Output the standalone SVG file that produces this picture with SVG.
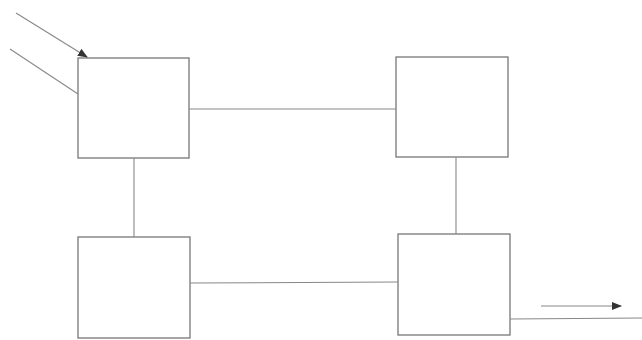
<svg xmlns="http://www.w3.org/2000/svg" width="642" height="340" viewBox="0 0 642 340">
<style>
.box{fill:none;stroke:#777;stroke-width:1.3}
.ln{fill:none;stroke:#888;stroke-width:1.1}
</style>
<defs>
<marker id="ah" markerWidth="10" markerHeight="8" refX="9" refY="4" orient="auto" markerUnits="userSpaceOnUse">
<path d="M0,0 L10,4 L0,8 Z" fill="#333"/>
</marker>
</defs>
<rect width="642" height="340" fill="#fff"/>
<g id="n1"><rect class="box" x="78" y="58" width="111" height="100"/></g>
<g id="n2"><rect class="box" x="396" y="57" width="112" height="100"/></g>
<g id="n3"><rect class="box" x="78" y="237" width="112" height="101"/></g>
<g id="n4"><rect class="box" x="398" y="234" width="112" height="101"/></g>
<g id="connectors">
<line class="ln" x1="16" y1="13" x2="87" y2="57" marker-end="url(#ah)"/>
<line class="ln" x1="10" y1="49" x2="78" y2="94"/>
<line class="ln" x1="189" y1="109" x2="396" y2="109"/>
<line class="ln" x1="134" y1="158" x2="134" y2="237"/>
<line class="ln" x1="456" y1="157" x2="456" y2="234"/>
<line class="ln" x1="190" y1="283" x2="398" y2="282"/>
<line class="ln" x1="510" y1="319" x2="642" y2="318"/>
<line class="ln" x1="541" y1="306" x2="621" y2="306" marker-end="url(#ah)"/>
</g>
</svg>
